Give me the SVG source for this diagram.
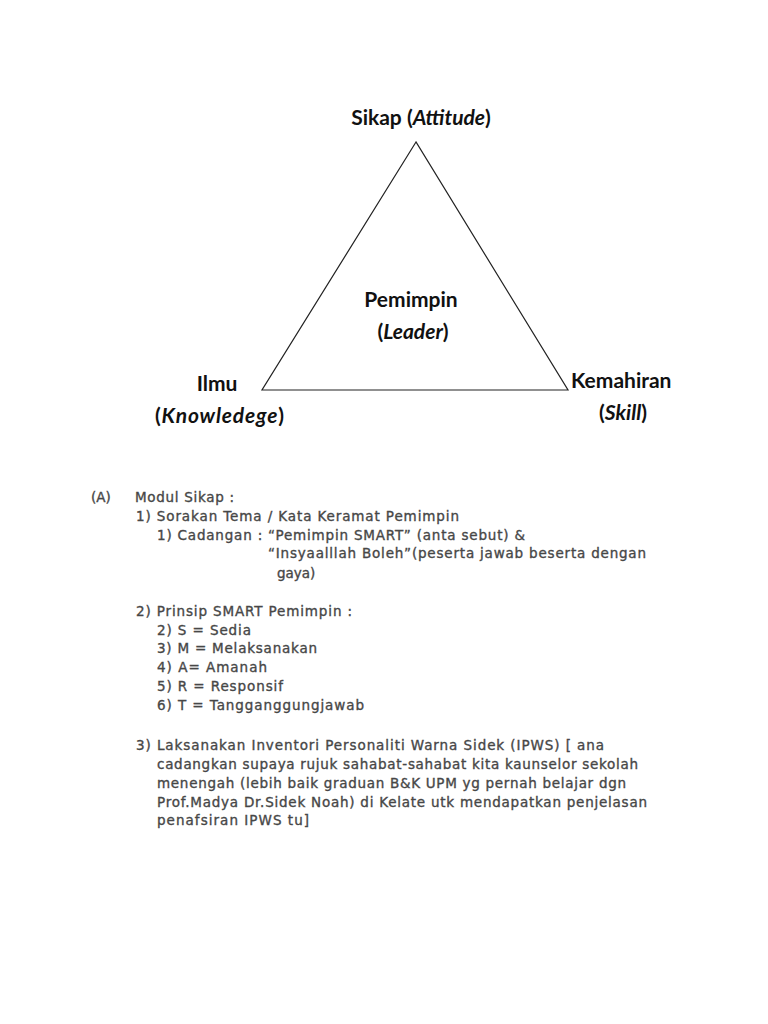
<svg xmlns="http://www.w3.org/2000/svg" width="768" height="1024" viewBox="0 0 768 1024">
<style>
.lbl{font-family:Lato,"Open Sans","Liberation Sans",sans-serif;font-weight:bold;font-size:21px;fill:#111}
.it{font-style:italic}
.body{font-family:"DejaVu Sans",Verdana,sans-serif;font-size:13.5px;fill:#474747;stroke:#474747;stroke-width:0.35}
</style>
<rect width="768" height="1024" fill="#fff"/>
<g id="connectors">
<polygon points="416,142 262,390 568,390" fill="none" stroke="#222" stroke-width="1.2"/>
</g>
<g id="sikap"><text class="lbl" x="421" y="125" text-anchor="middle">Sikap (<tspan class="it">Attitude</tspan>)</text></g>
<g id="pemimpin">
<text class="lbl" x="411" y="307" text-anchor="middle">Pemimpin</text>
<text class="lbl" x="413" y="339" text-anchor="middle">(<tspan class="it">Leader</tspan>)</text>
</g>
<g id="ilmu">
<text class="lbl" x="217" y="391" text-anchor="middle">Ilmu</text>
<text class="lbl" x="155" y="423" textLength="129" lengthAdjust="spacing">(<tspan class="it">Knowledege</tspan>)</text>
</g>
<g id="kemahiran">
<text class="lbl" x="571" y="388">Kemahiran</text>
<text class="lbl" x="623" y="420" text-anchor="middle">(<tspan class="it">Skill</tspan>)</text>
</g>
<g id="notes">
<text class="body" x="91" y="502">(A)</text>
<text class="body" x="135" y="502" textLength="99" lengthAdjust="spacing">Modul Sikap :</text>
<text class="body" x="136" y="521" textLength="323" lengthAdjust="spacing">1) Sorakan Tema / Kata Keramat Pemimpin</text>
<text class="body" x="157" y="540" textLength="368" lengthAdjust="spacing">1) Cadangan : “Pemimpin SMART” (anta sebut) &amp;</text>
<text class="body" x="268" y="558" textLength="378" lengthAdjust="spacing">“Insyaalllah Boleh”(peserta jawab beserta dengan</text>
<text class="body" x="277" y="578">gaya)</text>
<text class="body" x="136" y="616" textLength="216" lengthAdjust="spacing">2) Prinsip SMART Pemimpin :</text>
<text class="body" x="157" y="634.5" textLength="94" lengthAdjust="spacing">2) S = Sedia</text>
<text class="body" x="157" y="653" textLength="160" lengthAdjust="spacing">3) M = Melaksanakan</text>
<text class="body" x="157" y="672" textLength="110" lengthAdjust="spacing">4) A= Amanah</text>
<text class="body" x="157" y="691" textLength="126" lengthAdjust="spacing">5) R = Responsif</text>
<text class="body" x="157" y="710" textLength="207" lengthAdjust="spacing">6) T = Tangganggungjawab</text>
<text class="body" x="136" y="750" textLength="468" lengthAdjust="spacing">3) Laksanakan Inventori Personaliti Warna Sidek (IPWS) [ ana</text>
<text class="body" x="157" y="769" textLength="481" lengthAdjust="spacing">cadangkan supaya rujuk sahabat-sahabat kita kaunselor sekolah</text>
<text class="body" x="157" y="788" textLength="469" lengthAdjust="spacing">menengah (lebih baik graduan B&amp;K UPM yg pernah belajar dgn</text>
<text class="body" x="157" y="807" textLength="490" lengthAdjust="spacing">Prof.Madya Dr.Sidek Noah) di Kelate utk mendapatkan penjelasan</text>
<text class="body" x="157" y="825" textLength="152" lengthAdjust="spacing">penafsiran IPWS tu]</text>
</g>
</svg>
